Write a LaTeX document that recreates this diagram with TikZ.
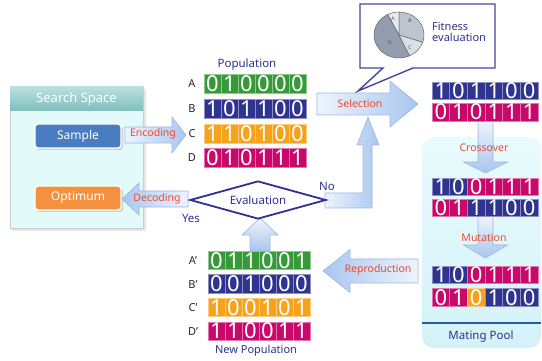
\documentclass[tikz,border=0pt]{standalone}
\usepackage{fontspec}
\setmainfont{Noto Sans}
\usetikzlibrary{shapes.geometric}
\definecolor{cgreen}{HTML}{369A38}
\definecolor{cblue}{HTML}{2F3490}
\definecolor{corange}{HTML}{F7A21B}
\definecolor{cmag}{HTML}{C9086B}
\definecolor{navy}{HTML}{2E3192}
\definecolor{lblred}{HTML}{EC4A30}
\definecolor{arlight}{HTML}{EEF4FE}
\definecolor{ardark}{HTML}{A9C6EE}
\definecolor{arborder}{HTML}{9CB7E0}
\definecolor{pooltop}{HTML}{E9FBFD}
\definecolor{poolbot}{HTML}{D3F2F8}
\definecolor{sshead1}{HTML}{B9E0E0}
\definecolor{sshead2}{HTML}{80BDBD}
\definecolor{ssbody}{HTML}{E3FAFA}
\definecolor{sample}{HTML}{4A7CC0}
\definecolor{optim}{HTML}{F4913F}
\definecolor{pieD}{HTML}{939DAF}
\definecolor{pieB}{HTML}{BCC4D0}
\definecolor{pieC}{HTML}{D9DEE7}
\definecolor{pieA}{HTML}{E6EAF0}
\tikzset{
  cell/.style={inner sep=0pt, text=white, line width=0.6pt,
    font=\fontsize{22}{22}\selectfont},
  blockarrow/.style={draw=arborder, line width=0.6pt},
  alabel/.style={text=lblred, font=\fontsize{10.5}{12}\selectfont, inner sep=0pt},
  navytext/.style={text=navy, font=\fontsize{11.5}{13}\selectfont, inner sep=0pt},
  letter/.style={text=black!85, font=\fontsize{11}{12}\selectfont, inner sep=0pt},
  button/.style={rounded corners=3pt, draw=white, line width=1.4pt, text=white,
    minimum width=86pt, minimum height=24pt, inner sep=0pt,
    font=\fontsize{12}{14}\selectfont},
  callout/.style={draw=navy!90!white, line width=1.4pt, fill=white, line join=miter},
  pielbl/.style={font=\fontsize{5}{5}\selectfont\bfseries, text=black!70, inner sep=0pt},
}
% row of bits: name, left x, centre y, cell width, height, list bit/colour
\newcommand{\bitrow}[6]{%
  \foreach \b/\c [count=\i] in {#6}{%
    \node[cell, fill=\c, draw=\c!55!white, minimum width=#4pt, minimum height=#5pt]
      (#1-\i) at ({#2+(\i-0.5)*#4},#3) {\b};
  }}
% horizontal block arrow: [shading] tail x, tip x, centre y, body half, head half, head base x
\newcommand{\hblock}[7][]{%
  \path[blockarrow,#1] (#2,#4-#5) -- (#7,#4-#5) -- (#7,#4-#6) -- (#3,#4)
    -- (#7,#4+#6) -- (#7,#4+#5) -- (#2,#4+#5) -- cycle;}
% vertical block arrow: [shading] tail y, tip y, centre x, body half, head half, head base y
\newcommand{\vblock}[7][]{%
  \path[blockarrow,#1] (#4-#5,#2) -- (#4-#5,#7) -- (#4-#6,#7) -- (#4,#3)
    -- (#4+#6,#7) -- (#4+#5,#7) -- (#4+#5,#2) -- cycle;}
\begin{document}
\begin{tikzpicture}[x=1pt,y=-1pt]
\useasboundingbox (0,0) rectangle (542,361);

% ---------- Mating pool background ----------
\path[rounded corners=12pt, top color=pooltop, bottom color=poolbot]
  (422,137) rectangle (541,348);
\draw[line width=1.6pt, draw=navy!80!cyan] (422,323) -- (541,323);
\node[navytext] (matingpool) at (481,337) {Mating Pool};

% ---------- Search space ----------
\fill[black!10] (12,89) rectangle (146,231);
\path[fill=ssbody, draw=black!20, line width=0.5pt] (10,87) rectangle (143,228);
\path[top color=sshead1, bottom color=sshead2] (10,87) rectangle (143,111);
\node[text=white, font=\fontsize{13}{15}\selectfont, inner sep=0pt] (sstitle) at (76.5,99) {Search Space};
\fill[black!18, rounded corners=3pt] (36,126) rectangle (123,150);
\node[button, fill=sample] (sample) at (78,136) {Sample};
\fill[black!18, rounded corners=3pt] (36,188) rectangle (123,212);
\node[button, fill=optim] (optimum) at (78,198) {Optimum};

% ---------- Block arrows ----------
\hblock[left color=arlight, right color=ardark]{125}{186}{135}{8}{18}{172}
\node[alabel] (encoding) at (153,134) {Encoding};
\hblock[left color=ardark, right color=arlight]{188}{122}{199}{8}{16}{139}
\node[alabel] (decoding) at (157,199) {Decoding};
\hblock[left color=arlight, right color=ardark]{317}{418}{104}{11}{23}{390}
\node[alabel] (selection) at (360,104) {Selection};
\hblock[left color=ardark, right color=arlight]{418}{323}{271}{12}{21.5}{350}
\node[alabel] (reproduction) at (378,270) {Reproduction};
\vblock[top color=arlight, bottom color=ardark]{121}{173}{485.5}{7.5}{22}{162}
\node[alabel] (crossover) at (484,148) {Crossover};
\vblock[top color=arlight, bottom color=ardark]{216}{258}{485.5}{7.5}{22}{245}
\node[alabel] (mutation) at (484,238) {Mutation};
\vblock[top color=arlight, bottom color=ardark]{251}{218}{260}{10}{18}{235}
% L-shaped arrow from Evaluation (No) to Selection
\path[blockarrow, left color=arlight, right color=ardark]
  (325,193) -- (363,193) -- (363,145) -- (357,145) -- (368,117) -- (379,145)
  -- (372,145) -- (372,208) -- (325,208) -- cycle;

% ---------- Evaluation diamond ----------
\node[diamond, draw=navy, line width=1.8pt, fill=white, minimum width=136pt,
  minimum height=38pt, inner sep=0pt, aspect=3.58, text=navy,
  font=\fontsize{11.5}{13}\selectfont] (eval) at (258,200) {Evaluation};
\node[navytext] (no) at (327,186) {No};
\node[navytext] (yes) at (191,218) {Yes};

% ---------- Callout with pie ----------
\path[callout] (360,4) -- (495,4) -- (495,68) -- (413,68) -- (358,91) -- (383,68) -- (360,68) -- cycle;
\begin{scope}[shift={(399,35)}, draw=black!60, line width=0.5pt]
  \filldraw[fill=pieA] (0,0) -- (-90:25 and 23) arc[start angle=-90, end angle=-117, x radius=25, y radius=23] -- cycle;
  \filldraw[fill=pieD] (0,0) -- (-117:25 and 23) arc[start angle=-117, end angle=-295, x radius=25, y radius=23] -- cycle;
  \filldraw[fill=pieC] (0,0) -- (-295:25 and 23) arc[start angle=-295, end angle=-342, x radius=25, y radius=23] -- cycle;
  \filldraw[fill=pieB] (0,0) -- (18:25 and 23) arc[start angle=18, end angle=-90, x radius=25, y radius=23] -- cycle;
  \node[pielbl] (pA) at (-6,-16) {A};
  \node[pielbl] (pB) at (11,-14) {B};
  \node[pielbl] (pC) at (11,13) {C};
  \node[pielbl] (pD) at (-9,8) {D};
\end{scope}
\node[navytext, align=left, anchor=west, font=\fontsize{11}{11.5}\selectfont] (fitness) at (432,32) {Fitness\\evaluation};

% ---------- Population ----------
\node[navytext] (poplabel) at (247,65) {Population};
\node[letter] (lA) at (192,84) {A};
\node[letter] (lB) at (192,109) {B};
\node[letter] (lC) at (192,134) {C};
\node[letter] (lD) at (192,158) {D};
\bitrow{popA}{204}{83.5}{17}{19}{0/cgreen,1/cgreen,0/cgreen,0/cgreen,0/cgreen,0/cgreen}
\bitrow{popB}{204}{108.5}{17}{19}{1/cblue,0/cblue,1/cblue,1/cblue,0/cblue,0/cblue}
\bitrow{popC}{204}{133.5}{17}{19}{1/corange,1/corange,0/corange,1/corange,0/corange,0/corange}
\bitrow{popD}{204}{157.5}{17}{19}{0/cmag,1/cmag,0/cmag,1/cmag,1/cmag,1/cmag}

% ---------- Selected parents ----------
\bitrow{selA}{432}{90.5}{17.67}{17}{1/cblue,0/cblue,1/cblue,1/cblue,0/cblue,0/cblue}
\bitrow{selB}{432}{112}{17.67}{18}{0/cmag,1/cmag,0/cmag,1/cmag,1/cmag,1/cmag}

% ---------- Crossover ----------
\bitrow{crA}{432}{186.5}{17.67}{17}{1/cblue,0/cblue,0/cmag,1/cmag,1/cmag,1/cmag}
\bitrow{crB}{432}{208}{17.67}{17}{0/cmag,1/cmag,1/cblue,1/cblue,0/cblue,0/cblue}

% ---------- Mutation ----------
\bitrow{muA}{432}{274.5}{17.67}{17}{1/cblue,0/cblue,0/cmag,1/cmag,1/cmag,1/cmag}
\bitrow{muB}{432}{297.5}{17.67}{18}{0/cmag,1/cmag,0/corange,1/cblue,0/cblue,0/cblue}

% ---------- New population ----------
\node[letter] (nA) at (193,261) {A'};
\node[letter] (nB) at (193,284.5) {B'};
\node[letter] (nC) at (193,308) {C'};
\node[letter] (nD) at (193,331.5) {D'};
\bitrow{newA}{208}{260.5}{17}{18}{0/cgreen,1/cgreen,1/cgreen,0/cgreen,0/cgreen,1/cgreen}
\bitrow{newB}{208}{284}{17}{19}{0/cblue,0/cblue,1/cblue,0/cblue,0/cblue,0/cblue}
\bitrow{newC}{208}{307.5}{17}{18}{1/corange,0/corange,0/corange,1/corange,0/corange,1/corange}
\bitrow{newD}{208}{331}{17}{18}{1/cmag,1/cmag,0/cmag,0/cmag,1/cmag,1/cmag}
\node[navytext, font=\fontsize{11}{12}\selectfont] (newpop) at (256,351) {New Population};
\end{tikzpicture}
\end{document}
